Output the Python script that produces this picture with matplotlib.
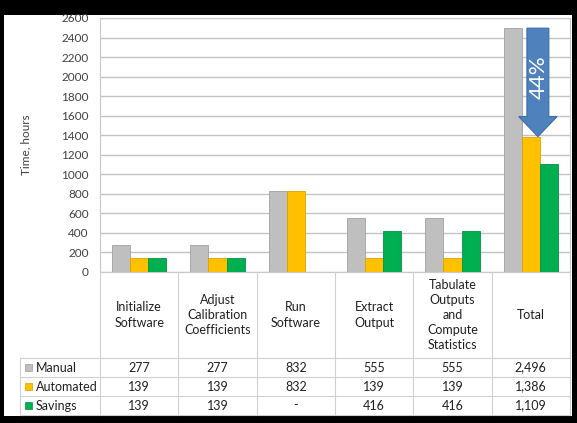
import matplotlib
matplotlib.use("Agg")
import matplotlib.pyplot as plt
from matplotlib.patches import Rectangle, FancyArrow
import numpy as np

# ---- data ----
categories = ["Initialize\nSoftware", "Adjust\nCalibration\nCoefficients", "Run\nSoftware",
              "Extract\nOutput", "Tabulate\nOutputs\nand\nCompute\nStatistics", "Total"]
series_names = ["Manual", "Automated", "Savings"]
manual = [277, 277, 832, 555, 555, 2496]
automated = [139, 139, 832, 139, 139, 1386]
savings = [139, 139, 0, 416, 416, 1109]
yticks = list(range(0, 2601, 200))
savings_pct = "44%"

colors = ["#BFBFBF", "#FFC000", "#00B050"]
edges = ["#A0A0A0", "#D9A300", "#00924A"]
font = ["Lato", "DejaVu Sans"]
plt.rcParams["font.family"] = font

W, H = 577, 423
fig = plt.figure(figsize=(W / 100, H / 100), dpi=100, facecolor="black")

# white panel inside the dark frame
fig.add_artist(Rectangle((4 / W, 7 / H), (572 - 4) / W, (416 - 15) / H,
                         transform=fig.transFigure, facecolor="white", edgecolor="none", zorder=0))

# ---- chart ----
ax = fig.add_axes([100 / W, (H - 272) / H, 470 / W, (272 - 18) / H])
ax.set_facecolor("white")
n = len(categories)
x = np.arange(n)
bw = 0.23
for i, vals in enumerate([manual, automated, savings]):
    ax.bar(x + (i - 1) * bw, vals, width=bw, color=colors[i], edgecolor=edges[i],
           linewidth=0.6, zorder=3)

ax.set_xlim(-0.5, n - 0.5)
ax.set_ylim(0, 2600)
ax.set_yticks(yticks)
ax.set_xticks([])
ax.yaxis.grid(True, color="#C4C4C4", linewidth=1.0, zorder=0)
ax.tick_params(axis="y", length=0, pad=8, labelsize=8.5, labelcolor="#404040")
for s in ax.spines.values():
    s.set_color("#C8C8C8")
    s.set_linewidth(0.8)
ax.set_ylabel("Time, hours", fontsize=8.5, color="#404040")
ax.yaxis.set_label_coords(-0.145, 0.5)

# savings arrow on the Total group
tot = n - 1
ax.add_patch(FancyArrow(tot + 0.09, manual[tot], 0, -(manual[tot] - automated[tot]),
                        width=0.28, head_width=0.49, head_length=205,
                        length_includes_head=True, facecolor="#4F81BD",
                        edgecolor="#3B6EA8", linewidth=0.8, zorder=5))
ax.text(tot + 0.1, 1990, savings_pct, rotation=90, color="white", fontsize=16,
        ha="center", va="center", zorder=6)

# ---- data table ----
tb = fig.add_axes([100 / W, (H - 415) / H, 470 / W, (415 - 272) / H])
tb.set_xlim(-0.5, n - 0.5)
tb.set_ylim(143, 0)
tb.axis("off")
line_c = "#D0D0D0"
left = -0.5 - 80 / 78.3
row_tops = [86, 105, 124, 143]
fs = 9

for b in np.arange(-0.5, n, 1.0):
    tb.plot([b, b], [0, 143], color=line_c, lw=0.8, clip_on=False)
tb.plot([left, left], [86, 143], color=line_c, lw=0.8, clip_on=False)
for yv in row_tops:
    tb.plot([left, n - 0.5], [yv, yv], color=line_c, lw=0.8, clip_on=False)

for i, c in enumerate(categories):
    tb.text(i, 43, c, ha="center", va="center", fontsize=fs, color="#202020",
            linespacing=1.32)

def fmt(v):
    return "-" if v == 0 else f"{v:,}"

for r, (name, vals) in enumerate(zip(series_names, [manual, automated, savings])):
    yc = (row_tops[r] + row_tops[r + 1]) / 2
    tb.add_patch(Rectangle((left + 0.065, yc - 3.5), 0.085, 7, facecolor=colors[r],
                           edgecolor=edges[r], lw=0.5, clip_on=False))
    tb.text(left + 0.2, yc, name, ha="left", va="center", fontsize=fs, color="#202020",
            clip_on=False)
    for i, v in enumerate(vals):
        tb.text(i, yc, fmt(v), ha="center", va="center", fontsize=fs, color="#202020")

fig.savefig("out.png", dpi=100, facecolor="black")
